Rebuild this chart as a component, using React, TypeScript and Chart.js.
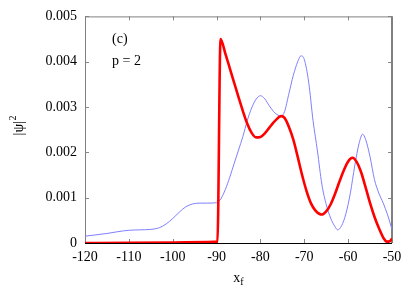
import { useEffect, useRef } from 'react';
import { Chart, registerables } from 'chart.js';
Chart.register(...registerables);

const blueX = [-120, -117.5, -115, -112.5, -110, -107.5, -105, -103, -101.5, -100, -98.5, -97, -95.5, -94, -92, -90, -89, -88, -87, -86, -85, -84, -83, -82, -81, -80, -79, -78, -77, -76, -75.3, -74.5, -73.5, -72.5, -71.5, -70.75, -70, -69, -68, -67, -66, -65, -64, -63, -62.4, -61.5, -60.5, -59.5, -58.5, -57.5, -56.7, -56, -55, -54, -53, -52, -51, -50];
const blueY = [0.00015, 0.00018, 0.00021, 0.00025, 0.00028, 0.00029, 0.0003, 0.00034, 0.00042, 0.00054, 0.00068, 0.0008, 0.00086, 0.00088, 0.00088, 0.00089, 0.00098, 0.00118, 0.00145, 0.00175, 0.00205, 0.00235, 0.0027, 0.00298, 0.00317, 0.00325, 0.00318, 0.00303, 0.0029, 0.00282, 0.0028, 0.0029, 0.0033, 0.0037, 0.004, 0.00413, 0.00405, 0.00355, 0.0027, 0.00203, 0.0013, 0.00085, 0.00055, 0.00036, 0.00029, 0.00038, 0.00065, 0.0011, 0.0017, 0.0022, 0.0024, 0.00228, 0.0019, 0.0014, 0.0011, 0.00088, 0.00062, 0.0003];

const redX = [-120, -110, -100, -92, -89.8, -89.1, -88, -87, -86, -85, -84, -83, -82, -81, -80, -79, -78, -77, -76, -75.3, -74.5, -73.5, -72.5, -71.5, -70.5, -69.5, -68.5, -67.5, -66.5, -66, -65, -64, -63, -62, -61, -60, -59, -58, -57, -56, -55, -54, -53, -52, -51.2, -50.5, -50];
const redY = [0, 0.000005, 0.000012, 0.00002, 0.00003, 0.0045, 0.00418, 0.00386, 0.00354, 0.00322, 0.00291, 0.00263, 0.00243, 0.00233, 0.00234, 0.00242, 0.00254, 0.00266, 0.00276, 0.0028, 0.00276, 0.00256, 0.00228, 0.0019, 0.0015, 0.00115, 0.00088, 0.00072, 0.00064, 0.00063, 0.0007, 0.00085, 0.00108, 0.00135, 0.0016, 0.0018, 0.00188, 0.00178, 0.00155, 0.00122, 0.00088, 0.00058, 0.00033, 0.00012, 0.00003, 0.00004, 0.0001];

const xTicks = [-120, -110, -100, -90, -80, -70, -60, -50];
const yTicks = [0, 0.001, 0.002, 0.003, 0.004, 0.005];
const panelLabel = '(c)';
const paramLabel = 'p = 2';

const FONT = '"Liberation Serif", "Times New Roman", serif';

export default function App() {
  const ref = useRef<HTMLCanvasElement>(null);
  useEffect(() => {
    document.body.style.margin = '0';
    const deco = {
      id: 'deco',
      beforeDatasetsDraw(chart: any) {
        const { ctx, chartArea: a, scales } = chart;
        ctx.save();
        ctx.lineWidth = 1;
        ctx.strokeStyle = '#888888';
        const tl = 4;
        ctx.beginPath();
        for (const v of xTicks) {
          const px = Math.round(scales.x.getPixelForValue(v)) + 0.5;
          ctx.moveTo(px, a.bottom); ctx.lineTo(px, a.bottom - tl);
          ctx.moveTo(px, a.top); ctx.lineTo(px, a.top + tl);
        }
        for (const v of yTicks) {
          const py = Math.round(scales.y.getPixelForValue(v)) + 0.5;
          ctx.moveTo(a.left, py); ctx.lineTo(a.left + tl, py);
          ctx.moveTo(a.right, py); ctx.lineTo(a.right - tl, py);
        }
        ctx.stroke();
        ctx.strokeStyle = '#808080';
        ctx.beginPath();
        ctx.moveTo(a.left + 0.5, a.bottom); ctx.lineTo(a.left + 0.5, a.top + 0.5);
        ctx.lineTo(a.right, a.top + 0.5);
        ctx.stroke();
        ctx.lineWidth = 2;
        ctx.beginPath();
        ctx.moveTo(a.right, a.top); ctx.lineTo(a.right, a.bottom);
        ctx.stroke();
        ctx.lineWidth = 1;
        ctx.strokeStyle = '#000000';
        ctx.beginPath();
        ctx.moveTo(a.left, a.bottom + 0.5); ctx.lineTo(a.right, a.bottom + 0.5);
        ctx.stroke();
        ctx.restore();
      },
      afterDraw(chart: any) {
        const { ctx, chartArea: a } = chart;
        ctx.save();
        ctx.fillStyle = '#000';
        ctx.font = `14px ${FONT}`;
        ctx.textAlign = 'left';
        ctx.textBaseline = 'middle';
        ctx.fillText(panelLabel, 112, 39);
        ctx.fillText(paramLabel, 112, 61);
        ctx.textBaseline = 'alphabetic';
        const cx = (a.left + a.right) / 2;
        const big = `14px ${FONT}`;
        const small = `10px ${FONT}`;
        ctx.font = big;
        const wx = ctx.measureText('x').width;
        ctx.font = small;
        const wf = ctx.measureText('f').width;
        const sx = cx - (wx + wf) / 2;
        ctx.font = big;
        ctx.fillText('x', sx, 282);
        ctx.font = small;
        ctx.fillText('f', sx + wx, 285);
        ctx.translate(23, (a.top + a.bottom) / 2 - 4);
        ctx.rotate(-Math.PI / 2);
        ctx.font = big;
        const wp = ctx.measureText('|\u03c8|').width;
        ctx.font = small;
        const w2 = ctx.measureText('2').width;
        const s0 = -(wp + w2) / 2;
        ctx.font = big;
        ctx.fillText('|\u03c8|', s0, 0);
        ctx.font = small;
        ctx.fillText('2', s0 + wp + 0.5, -7);
        ctx.restore();
      },
    };
    const chart = new Chart(ref.current as HTMLCanvasElement, {
      type: 'line',
      data: {
        datasets: [
          {
            data: redX.map((x, i) => ({ x, y: redY[i] })),
            borderColor: '#ff0000',
            borderWidth: 2.6,
            pointRadius: 0,
            cubicInterpolationMode: 'monotone',
            fill: false,
          },
          {
            data: blueX.map((x, i) => ({ x, y: blueY[i] })),
            borderColor: '#7f7fff',
            borderWidth: 1,
            pointRadius: 0,
            cubicInterpolationMode: 'monotone',
            fill: false,
          },
        ],
      },
      options: {
        animation: false,
        responsive: false,
        maintainAspectRatio: false,
        layout: { padding: { top: 14, right: 17, left: 0, bottom: 0 } },
        plugins: { legend: { display: false }, tooltip: { enabled: false } },
        scales: {
          x: {
            type: 'linear',
            min: -120,
            max: -50,
            grid: { display: false, drawTicks: false },
            border: { display: false },
            afterBuildTicks: (s: any) => { s.ticks = xTicks.map((v) => ({ value: v })); },
            afterFit: (s: any) => { s.height = 43; },
            ticks: {
              color: '#000',
              padding: 6,
              font: { family: FONT, size: 14 },
              maxRotation: 0,
              autoSkip: false,
              callback: (v: any) => String(v),
            },
          },
          y: {
            type: 'linear',
            min: 0,
            max: 0.005,
            grid: { display: false, drawTicks: false },
            border: { display: false },
            afterBuildTicks: (s: any) => { s.ticks = yTicks.map((v) => ({ value: v })); },
            afterFit: (s: any) => { s.width = 85; },
            ticks: {
              color: '#000',
              padding: 8,
              font: { family: FONT, size: 14 },
              autoSkip: false,
              callback: (v: any) => (v === 0 ? '0' : Number(v).toFixed(3)),
            },
          },
        },
      },
      plugins: [deco],
    } as any);
    return () => chart.destroy();
  }, []);
  return (
    <div style={{ position: 'absolute', left: 0, top: 0, width: 409, height: 286 }}>
      <canvas ref={ref} width={409} height={286} style={{ display: 'block' }} />
    </div>
  );
}
